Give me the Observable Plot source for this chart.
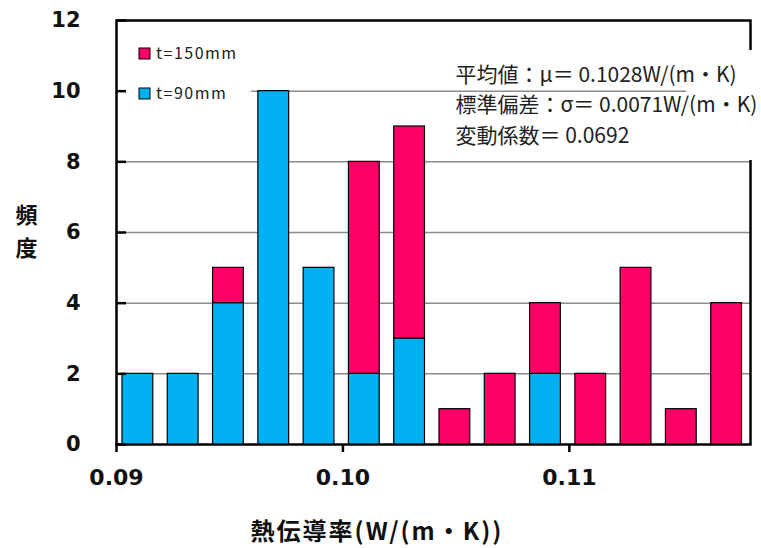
<!DOCTYPE html>
<html>
<head>
<meta charset="utf-8">
<script src="https://cdn.jsdelivr.net/npm/d3@7"></script>
<script src="https://cdn.jsdelivr.net/npm/@observablehq/plot@0.6"></script>
<style>
  html, body { margin: 0; padding: 0; background: #fff; }
  #chart { width: 761px; height: 548px; }
</style>
</head>
<body>
<div id="chart"></div>
<script>
// ---- data ----
const binStarts = [0.090, 0.092, 0.094, 0.096, 0.098, 0.100, 0.102, 0.104, 0.106, 0.108, 0.110, 0.112, 0.114, 0.116];
const binWidth = 0.002;
const countT90  = [2, 2, 4, 10, 5, 2, 3, 0, 0, 2, 0, 0, 0, 0];
const countT150 = [0, 0, 1, 0, 0, 6, 6, 1, 2, 2, 2, 5, 1, 4];
const seriesNames = ["t=150mm", "t=90mm"];
const seriesColors = ["#FF0066", "#00B0F0"];
const xTicks = [0.09, 0.10, 0.11];
const yTicks = [0, 2, 4, 6, 8, 10, 12];
const gridTicks = [2, 4, 6, 8, 10];
const xDomain = [0.09, 0.118];
const yDomain = [0, 12];
const xLabel = "熱伝導率(W/(m・K))";
const yLabelChars = ["頻", "度"];
const statLines = ["平均値：μ＝ 0.1028W/(m・K)", "標準偏差：σ＝ 0.0071W/(m・K)", "変動係数＝ 0.0692"];

// ---- build stacked rows (t=90mm at bottom, t=150mm on top) ----
const rows = [];
binStarts.forEach((b, i) => {
  const lo = countT90[i], hi = countT90[i] + countT150[i];
  if (lo > 0) rows.push({x1: b, x2: b + binWidth, y1: 0, y2: lo, series: seriesNames[1]});
  if (hi > lo) rows.push({x1: b, x2: b + binWidth, y1: lo, y2: hi, series: seriesNames[0]});
});

const tickFont = "DejaVu Sans, Verdana, sans-serif";
const cjkFont = "'Noto Sans CJK JP', sans-serif";

// white boxes behind legend and statistics text
function boxes(index, scales, values, dims) {
  const g = d3.create("svg:g");
  const left = dims.marginLeft, top = dims.marginTop;
  const right = dims.width - dims.marginRight;
  g.append("rect").attr("x", left + 2).attr("y", top + 10).attr("width", 133).attr("height", 76).attr("fill", "white");
  g.append("rect").attr("x", right - 64).attr("y", top + 30).attr("width", 80).attr("height", 110).attr("fill", "white");
  return g.node();
}

function legend(index, scales, values, dims) {
  const g = d3.create("svg:g");
  const left = dims.marginLeft, top = dims.marginTop;
  seriesNames.forEach((name, i) => {
    const y = top + 28 + i * 40;
    g.append("rect").attr("x", left + 23).attr("y", y).attr("width", 11).attr("height", 11)
      .attr("fill", scales.color(name)).attr("stroke", "black").attr("stroke-width", 1);
    g.append("text").attr("x", left + 40).attr("y", y + 5.5).attr("dy", "0.35em")
      .attr("text-anchor", "start")
      .attr("font-family", cjkFont).attr("font-size", 16).attr("letter-spacing", "1.5px")
      .attr("fill", "#222").text(name);
  });
  return g.node();
}

// x-axis title with slightly widened spacing
function xTitle(index, scales, values, dims) {
  const cx = (dims.marginLeft + dims.width - dims.marginRight) / 2 - 56;
  return d3.create("svg:text")
    .attr("x", cx).attr("y", dims.height - dims.marginBottom + 88).attr("dy", "0.35em")
    .attr("text-anchor", "middle").attr("font-family", cjkFont).attr("font-size", 24)
    .attr("font-weight", "bold").attr("letter-spacing", "2px").attr("fill", "#111")
    .text(xLabel).node();
}

const chart = Plot.plot({
  width: 761,
  height: 548,
  marginLeft: 116,
  marginRight: 11,
  marginTop: 20,
  marginBottom: 104,
  style: {background: "white", overflow: "visible"},
  x: {domain: xDomain},
  y: {domain: yDomain},
  color: {domain: seriesNames, range: seriesColors},
  marks: [
    Plot.gridY(gridTicks, {stroke: "#8c8c8c", strokeOpacity: 1, strokeWidth: 1.5}),
    Plot.frame({stroke: "black", strokeWidth: 2.5}),
    boxes,
    Plot.rect(rows, {x1: "x1", x2: "x2", y1: "y1", y2: "y2", fill: "series", stroke: "black", strokeWidth: 1.2, insetLeft: 6, insetRight: 8.5}),
    Plot.axisX({ticks: xTicks, tickSize: 8, tickPadding: 17, tickFormat: d3.format(".2f"), label: null,
      fontSize: 22, fontWeight: "bold", fontFamily: tickFont, stroke: "black", strokeWidth: 2.5, fill: "#111"}),
    Plot.axisY({ticks: yTicks, tickSize: 10, dx: 10, text: null, label: null, strokeWidth: 2.5}),
    Plot.axisY({ticks: yTicks, tickSize: 0, tickPadding: 36, label: null,
      fontSize: 21, fontWeight: "bold", fontFamily: tickFont, fill: "#111"}),
    legend,
    Plot.text([statLines.join("\n")], {frameAnchor: "top-left", dx: 339, dy: 82, textAnchor: "start",
      lineAnchor: "middle", lineHeight: 1.45, fontSize: 21, fontFamily: cjkFont, fill: "#222"}),
    xTitle,
    Plot.text([yLabelChars[0]], {frameAnchor: "left", dx: -90, dy: -16.5, textAnchor: "middle", fontSize: 22, fontWeight: "bold", fontFamily: cjkFont, fill: "#111"}),
    Plot.text([yLabelChars[1]], {frameAnchor: "left", dx: -90, dy: 16.5, textAnchor: "middle", fontSize: 22, fontWeight: "bold", fontFamily: cjkFont, fill: "#111"})
  ]
});
document.getElementById("chart").append(chart);
</script>
</body>
</html>
